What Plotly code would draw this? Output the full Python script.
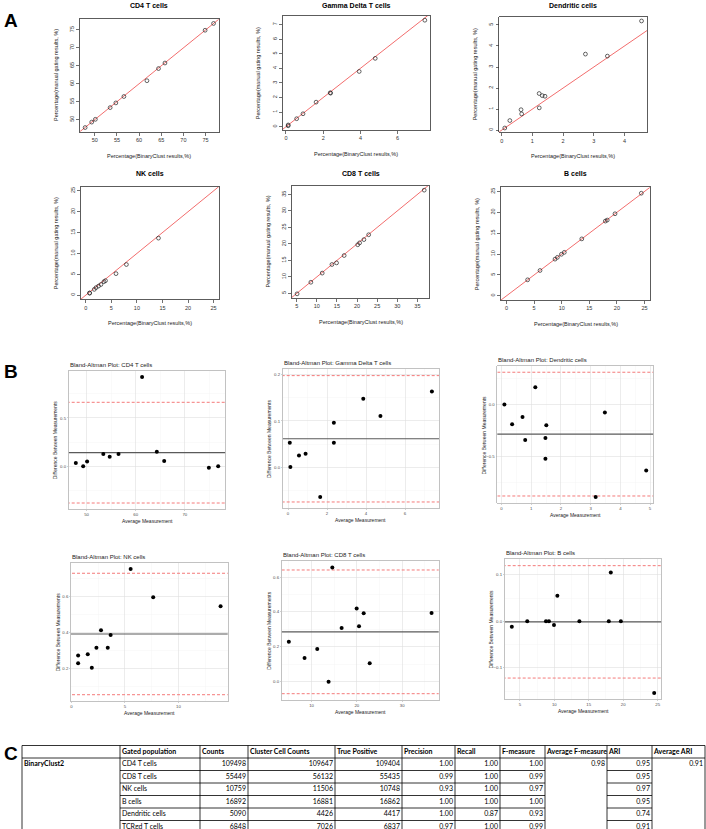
import numpy as np
import plotly.graph_objects as go

W, H = 706, 829

# ---------------- data ----------------
panel_titles = ["CD4 T cells", "Gamma Delta T cells", "Dendritic cells",
                "NK cells", "CD8 T cells", "B cells"]

cd4_binaryclust = [47.817, 49.300, 50.125, 53.464, 54.750, 56.564, 61.762, 64.375, 65.828, 74.893, 76.800]
cd4_manual      = [47.783, 49.300, 50.075, 53.336, 54.650, 56.436, 60.838, 64.225, 65.772, 74.907, 76.800]
gd_binaryclust  = [0.117, 0.120, 0.573, 0.915, 1.618, 2.398, 2.377, 3.934, 4.796, 7.462]
gd_manual       = [0.064, 0.120, 0.548, 0.886, 1.683, 2.302, 2.324, 3.786, 4.685, 7.298]
dc_binaryclust  = [0.100, 0.265, 0.650, 0.630, 1.223, 1.220, 1.320, 1.410, 3.442, 2.727, 4.554]
dc_manual       = [0.100, 0.455, 0.770, 0.970, 1.058, 1.740, 1.640, 1.610, 3.518, 3.613, 5.187]
nk_binaryclust  = [0.734, 0.756, 1.659, 2.001, 2.488, 2.966, 3.548, 3.853, 5.908, 7.939, 14.213]
nk_manual       = [0.506, 0.485, 1.381, 1.799, 2.173, 2.554, 3.233, 3.467, 5.153, 7.342, 13.667]
cd8_binaryclust = [5.095, 8.518, 11.344, 13.760, 14.907, 16.794, 20.170, 20.639, 21.706, 22.893, 36.697]
cd8_manual      = [4.866, 8.383, 11.157, 13.760, 14.253, 16.486, 19.751, 20.322, 21.314, 22.787, 36.303]
b_binaryclust   = [3.824, 6.070, 8.790, 9.220, 9.946, 10.468, 13.640, 17.910, 18.253, 19.660, 24.423]
b_manual        = [3.836, 6.070, 8.790, 9.220, 9.954, 10.413, 13.640, 17.910, 18.148, 19.660, 24.577]

binaryclust = [cd4_binaryclust, gd_binaryclust, dc_binaryclust, nk_binaryclust, cd8_binaryclust, b_binaryclust]
manual = [cd4_manual, gd_manual, dc_manual, nk_manual, cd8_manual, b_manual]
scatter_limits = [None, None, None, (0, 25), None, (0, 25)]
scatter_dticks = [(5, 5), (2, 1), (1, 1), (5, 5), (5, 5), (5, 5)]
ba_dticks = [(10, 0.5), (2, 0.1), (1, 0.5), (5, 0.2), (10, 0.2), (5, 0.1)]

table_method = "BinaryClust2"
table_header = ["Gated population", "Counts", "Cluster Cell Counts", "True Positive",
                "Precision", "Recall", "F-measure", "Average F-measure", "ARI", "Average ARI"]
gated_population = ["CD4 T cells", "CD8 T cells", "NK cells", "B cells", "Dendritic cells", "TCRgd T cells"]
counts = [109498, 55449, 10759, 16892, 5090, 6848]
cluster_cell_counts = [109647, 56132, 11506, 16881, 4426, 7026]
true_positive = [109404, 55435, 10748, 16862, 4417, 6837]
precision = [1.00, 0.99, 0.93, 1.00, 1.00, 0.97]
recall = [1.00, 1.00, 1.00, 1.00, 0.87, 1.00]
f_measure = [1.00, 0.99, 0.97, 1.00, 0.93, 0.99]
average_f_measure = 0.98
ari = [0.95, 0.95, 0.97, 0.95, 0.74, 0.91]
average_ari = 0.91

# ---------------- layout geometry (pixels) ----------------
sc_boxes = [(80, 218.7, 19.3, 131.7), (282.7, 430.3, 16, 130), (499.3, 647, 16.7, 132.3),
            (80.7, 218.7, 186.7, 299.3), (292, 429.3, 186, 298), (501, 650, 187.3, 300)]
sc_title_y = [5.5, 5.5, 5.5, 173.3, 173.3, 173.3]
ba_boxes = [(68.7, 225.3, 370.7, 509.3), (282.7, 439, 369.3, 508.3), (497.3, 653.3, 366, 503.3),
            (71, 227.7, 562.7, 701), (281.7, 438.7, 561.3, 700), (504.7, 661.3, 559.3, 699.3)]
col_edges = [22, 120, 200, 248, 335, 402, 455, 500, 545, 607, 652, 705]
row_edges = [745.5, 758, 770.5, 783, 795.5, 808, 820.5, 833]
TABLE_TOP = 738

RFONT = "Liberation Sans"
TFONT = "Lato"


def dom(box):
    l, r, t, b = box
    return [l / W, r / W], [1 - b / H, 1 - t / H]


fig = go.Figure()
layout = {}
annotations = []
shapes = []


def ann(text, xp, yp, size, color="#222", xanchor="center", angle=0, family=RFONT):
    annotations.append(dict(text=text, x=xp / W, y=1 - yp / H, xref="paper", yref="paper",
                            showarrow=False, xanchor=xanchor, yanchor="middle", textangle=angle,
                            borderpad=0, font=dict(size=size, family=family, color=color)))


# ---------------- Panel A: scatter plots ----------------
for i in range(6):
    k = i + 1
    sfx = "" if k == 1 else str(k)
    xs = np.array(binaryclust[i], float)
    ys = np.array(manual[i], float)
    if scatter_limits[i] is None:
        xlo, xhi = xs.min(), xs.max()
        ylo, yhi = ys.min(), ys.max()
    else:
        xlo, xhi = scatter_limits[i]
        ylo, yhi = scatter_limits[i]
    xr = [xlo - 0.04 * (xhi - xlo), xhi + 0.04 * (xhi - xlo)]
    yr = [ylo - 0.04 * (yhi - ylo), yhi + 0.04 * (yhi - ylo)]
    lo = min(xr[0], yr[0]) - 1
    hi = max(xr[1], yr[1]) + 1
    fig.add_trace(go.Scatter(x=[lo, hi], y=[lo, hi], mode="lines",
                             line=dict(color="#f26d6d", width=1),
                             xaxis="x" + sfx, yaxis="y" + sfx, hoverinfo="skip"))
    fig.add_trace(go.Scatter(x=xs, y=ys, mode="markers",
                             marker=dict(symbol="circle-open", size=3.8, color="#222",
                                         line=dict(width=0.7, color="#222")),
                             xaxis="x" + sfx, yaxis="y" + sfx))
    xd, yd = dom(sc_boxes[i])
    common = dict(showline=True, mirror=True, linecolor="#333", linewidth=0.8,
                  ticks="outside", ticklen=3, tickwidth=0.7, tickcolor="#333",
                  tickfont=dict(size=5.5, color="#333", family=RFONT),
                  showgrid=False, zeroline=False)
    layout["xaxis" + sfx] = dict(domain=xd, range=xr, dtick=scatter_dticks[i][0], tick0=0,
                                 anchor="y" + sfx, **common)
    layout["yaxis" + sfx] = dict(domain=yd, range=yr, dtick=scatter_dticks[i][1], tick0=0,
                                 anchor="x" + sfx, tickangle=-90, **common)
    l, r, t, b = sc_boxes[i]
    ann("<b>" + panel_titles[i] + "</b>", (l + r) / 2, sc_title_y[i], 7, color="black")
    ann("Percentage(BinaryClust results,%)", (l + r) / 2, b + 24, 5.5)
    ann("Percentage(manual gating results, %)", l - 24.5, (t + b) / 2, 5.5, angle=-90)

# ---------------- Panel B: Bland-Altman ----------------
for i in range(6):
    k = i + 7
    sfx = str(k)
    xs = np.array(binaryclust[i], float)
    ys = np.array(manual[i], float)
    avg = (xs + ys) / 2
    diff = xs - ys
    m = diff.mean()
    sd = diff.std(ddof=1)
    up, lw = m + 1.96 * sd, m - 1.96 * sd
    xlo, xhi = avg.min(), avg.max()
    ylo, yhi = min(diff.min(), lw), max(diff.max(), up)
    xr = [xlo - 0.05 * (xhi - xlo), xhi + 0.05 * (xhi - xlo)]
    yr = [ylo - 0.05 * (yhi - ylo), yhi + 0.05 * (yhi - ylo)]
    ext = [xr[0] - 1e3, xr[1] + 1e3]
    fig.add_trace(go.Scatter(x=ext, y=[m, m], mode="lines", line=dict(color="#5a5a5a", width=1.1),
                             xaxis="x" + sfx, yaxis="y" + sfx, hoverinfo="skip"))
    for v in (up, lw):
        fig.add_trace(go.Scatter(x=ext, y=[v, v], mode="lines",
                                 line=dict(color="#f47a7a", width=1, dash="3px,2px"),
                                 xaxis="x" + sfx, yaxis="y" + sfx, hoverinfo="skip"))
    fig.add_trace(go.Scatter(x=avg, y=diff, mode="markers",
                             marker=dict(symbol="circle", size=4, color="black"),
                             xaxis="x" + sfx, yaxis="y" + sfx))
    xd, yd = dom(ba_boxes[i])
    common = dict(showline=True, mirror=True, linecolor="#b3b3b3", linewidth=0.8,
                  ticks="outside", ticklen=1, tickwidth=0.6, tickcolor="#b3b3b3",
                  tickfont=dict(size=4.3, color="#4d4d4d", family=RFONT),
                  showgrid=True, gridcolor="#e0e0e0", gridwidth=0.6, zeroline=False)
    layout["xaxis" + sfx] = dict(domain=xd, range=xr, dtick=ba_dticks[i][0], tick0=0, anchor="y" + sfx,
                                 minor=dict(dtick=ba_dticks[i][0] / 2, tick0=0, showgrid=True,
                                            gridcolor="#f2f2f2", gridwidth=0.4, ticks=""),
                                 **common)
    layout["yaxis" + sfx] = dict(domain=yd, range=yr, dtick=ba_dticks[i][1], tick0=0, anchor="x" + sfx,
                                 tickformat=".1f",
                                 minor=dict(dtick=ba_dticks[i][1] / 2, tick0=0, showgrid=True,
                                            gridcolor="#f2f2f2", gridwidth=0.4, ticks=""),
                                 **common)
    l, r, t, b = ba_boxes[i]
    ann("Bland-Altman Plot: " + panel_titles[i], l, t - 6, 6, xanchor="left")
    ann("Average Measurement", (l + r) / 2, b + 12, 5)
    ann("Difference Between Measurements", l - 13.5, (t + b) / 2, 5, angle=-90)

# ---------------- Panel C: table ----------------
layout["xaxis13"] = dict(domain=[0, 1], range=[0, W], visible=False, anchor="y13", fixedrange=True)
layout["yaxis13"] = dict(domain=[0, 1 - TABLE_TOP / H], range=[H, TABLE_TOP], visible=False,
                         anchor="x13", fixedrange=True)

tx, ty, tt, tp = [], [], [], []


def cell_text(c, r, s, align):
    if align == "left":
        tx.append(col_edges[c] + 2)
        tp.append("middle right")
    else:
        tx.append(col_edges[c + 1] - 2)
        tp.append("middle left")
    ty.append((row_edges[r] + row_edges[r + 1]) / 2)
    tt.append(s)


for j, h in enumerate(table_header):
    cell_text(j + 1, 0, "<b>" + h + "</b>", "left")
cell_text(0, 1, "<b>" + table_method + "</b>", "left")
for r in range(len(gated_population)):
    row = r + 1
    cell_text(1, row, gated_population[r], "left")
    cell_text(2, row, str(counts[r]), "right")
    cell_text(3, row, str(cluster_cell_counts[r]), "right")
    cell_text(4, row, str(true_positive[r]), "right")
    cell_text(5, row, f"{precision[r]:.2f}", "right")
    cell_text(6, row, f"{recall[r]:.2f}", "right")
    cell_text(7, row, f"{f_measure[r]:.2f}", "right")
    cell_text(9, row, f"{ari[r]:.2f}", "right")
cell_text(8, 1, f"{average_f_measure:.2f}", "right")
cell_text(10, 1, f"{average_ari:.2f}", "right")

fig.add_trace(go.Scatter(x=tx, y=ty, text=tt, mode="text", textposition=tp,
                         textfont=dict(size=7, family=TFONT, color="black"),
                         xaxis="x13", yaxis="y13", cliponaxis=False, hoverinfo="skip"))


def hline(y, x0, x1):
    shapes.append(dict(type="line", xref="x13", yref="y13", x0=x0, x1=x1, y0=y, y1=y,
                       line=dict(color="black", width=0.8)))


def vline(x, y0, y1):
    shapes.append(dict(type="line", xref="x13", yref="y13", x0=x, x1=x, y0=y0, y1=y1,
                       line=dict(color="black", width=0.8)))


hline(row_edges[0], col_edges[0], col_edges[-1])
hline(row_edges[1], col_edges[0], col_edges[-1])
hline(row_edges[-1], col_edges[0], col_edges[-1])
for r in range(2, len(row_edges) - 1):
    hline(row_edges[r], col_edges[1], col_edges[8])
    hline(row_edges[r], col_edges[9], col_edges[10])
for c in col_edges:
    vline(c, row_edges[0], row_edges[-1])

# ---------------- panel letters ----------------
for letter, (lx, ly) in zip(["A", "B", "C"], [(3, 20), (3, 372), (3, 753)]):
    ann("<b>" + letter + "</b>", lx, ly, 19, color="black", xanchor="left")

fig.update_layout(width=W, height=H, margin=dict(l=0, r=0, t=0, b=0),
                  paper_bgcolor="white", plot_bgcolor="rgba(0,0,0,0)", showlegend=False,
                  hovermode=False, annotations=annotations, shapes=shapes, **layout)
fig.write_html("out.html", config={"displayModeBar": False, "staticPlot": True},
               post_script="document.body.style.margin='0px';document.body.style.overflow='hidden';")
